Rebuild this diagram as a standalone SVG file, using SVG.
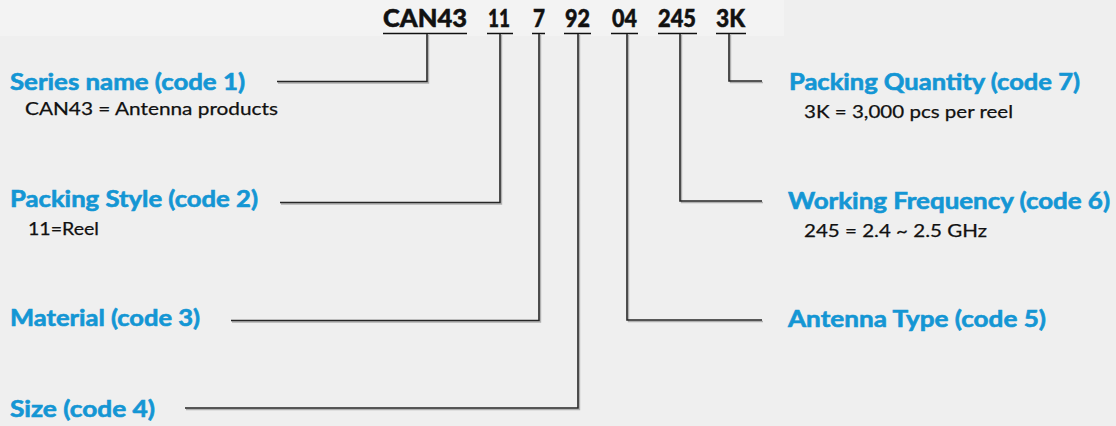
<svg xmlns="http://www.w3.org/2000/svg" width="1116" height="426" viewBox="0 0 1116 426">
<style>
.bg{fill:#efefef}
.band{fill:#f3f3f3}
.code{font-family:Lato,"Liberation Sans",sans-serif;font-weight:900;font-size:24px;fill:#111;stroke:#111;stroke-width:0.5}
.lbl{font-family:Lato,"Liberation Sans",sans-serif;font-weight:700;font-size:22px;fill:#1496d4;stroke:#1496d4;stroke-width:0.6}
.sub{font-family:Lato,"Liberation Sans",sans-serif;font-weight:400;font-size:17.5px;fill:#111;stroke:#111;stroke-width:0.25}
.ul{stroke:#111;stroke-width:1.6;fill:none}
.conn{stroke:#262626;stroke-width:1.6;fill:none}
.shadow{stroke:#b0b0b0;stroke-width:1.4;fill:none}
</style>
<rect class="bg" x="0" y="0" width="1116" height="426"/>
<rect class="band" x="0" y="0" width="784" height="36"/>
<g id="code">
<text class="code" x="383" y="27" textLength="84" lengthAdjust="spacingAndGlyphs">CAN43</text>
<text class="code" x="488" y="27" textLength="22" lengthAdjust="spacingAndGlyphs">11</text>
<text class="code" x="533" y="27" textLength="12" lengthAdjust="spacingAndGlyphs">7</text>
<text class="code" x="565" y="27" textLength="25" lengthAdjust="spacingAndGlyphs">92</text>
<text class="code" x="612" y="27" textLength="25" lengthAdjust="spacingAndGlyphs">04</text>
<text class="code" x="658" y="27" textLength="38" lengthAdjust="spacingAndGlyphs">245</text>
<text class="code" x="716" y="27" textLength="29" lengthAdjust="spacingAndGlyphs">3K</text>
<path class="ul" d="M383 33.5H467M487 33.5H513M532 33.5H545M564 33.5H591M611 33.5H638M658 33.5H697M716 33.5H746"/>
</g>
<g id="connectors">
<path class="shadow" d="M428.5 35V83H278M501.5 35V204H281M540.5 35V322H232M579.5 35V409.5H186M628.5 35V321.5H763M681.5 35V202.5H763M730.5 35V82.5H763"/>
<path class="conn" d="M427 34V81.5H277"/>
<path class="conn" d="M500 34V202.5H280"/>
<path class="conn" d="M539 34V320.5H231"/>
<path class="conn" d="M578 34V408H185"/>
<path class="conn" d="M627 34V320H762"/>
<path class="conn" d="M680 34V201H762"/>
<path class="conn" d="M729 34V81H762"/>
</g>
<g id="n1">
<text class="lbl" x="10" y="90" textLength="235" lengthAdjust="spacingAndGlyphs">Series name (code 1)</text>
<text class="sub" x="25" y="115" textLength="253" lengthAdjust="spacingAndGlyphs">CAN43 = Antenna products</text>
</g>
<g id="n2">
<text class="lbl" x="10" y="207" textLength="248" lengthAdjust="spacingAndGlyphs">Packing Style (code 2)</text>
<text class="sub" x="28" y="235" textLength="71" lengthAdjust="spacingAndGlyphs">11=Reel</text>
</g>
<g id="n3">
<text class="lbl" x="10" y="326" textLength="190" lengthAdjust="spacingAndGlyphs">Material (code 3)</text>
</g>
<g id="n4">
<text class="lbl" x="10" y="417" textLength="145" lengthAdjust="spacingAndGlyphs">Size (code 4)</text>
</g>
<g id="n5">
<text class="lbl" x="788" y="327" textLength="258" lengthAdjust="spacingAndGlyphs">Antenna Type (code 5)</text>
</g>
<g id="n6">
<text class="lbl" x="788" y="209" textLength="322" lengthAdjust="spacingAndGlyphs">Working Frequency (code 6)</text>
<text class="sub" x="804" y="237" textLength="183" lengthAdjust="spacingAndGlyphs">245 = 2.4 ~ 2.5 GHz</text>
</g>
<g id="n7">
<text class="lbl" x="789" y="90" textLength="291" lengthAdjust="spacingAndGlyphs">Packing Quantity (code 7)</text>
<text class="sub" x="804" y="118" textLength="209" lengthAdjust="spacingAndGlyphs">3K = 3,000 pcs per reel</text>
</g>
</svg>
